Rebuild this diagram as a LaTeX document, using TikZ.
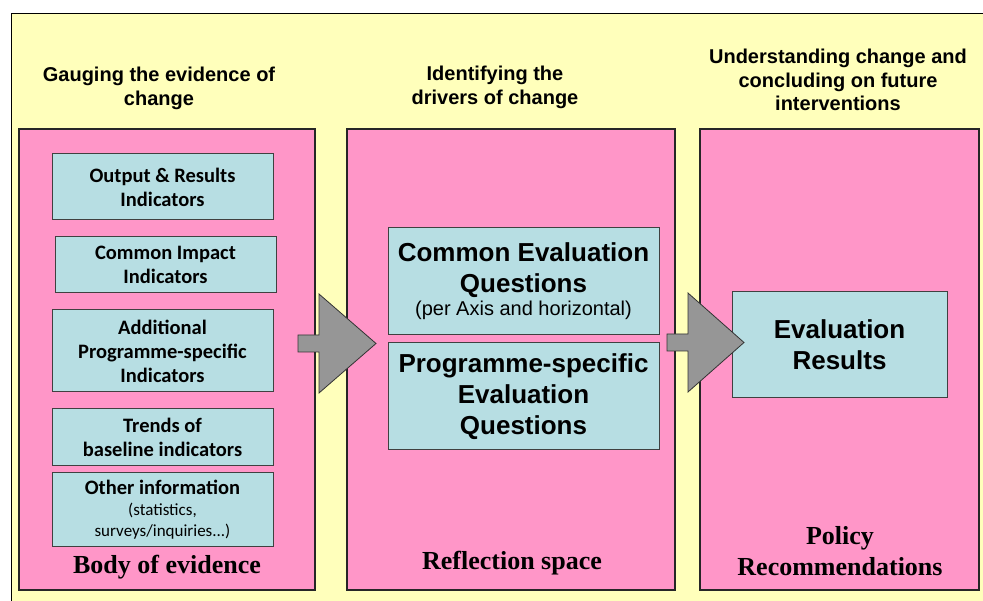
\documentclass[tikz,border=0pt]{standalone}
\usepackage{fontspec}
\setmainfont{Liberation Serif}
\newfontfamily\arialfont{Liberation Sans}
\newfontfamily\califont{Carlito}
\usepackage{xcolor}
\usepackage{tikz}
\usetikzlibrary{positioning}
\definecolor{bgyellow}{RGB}{255,255,187}
\definecolor{panelpink}{RGB}{255,150,200}
\definecolor{boxblue}{RGB}{183,222,227}
\definecolor{arrowgray}{RGB}{150,150,150}
\tikzset{panel node/.style={rectangle,fill=panelpink,draw=black!85,line width=1.2pt,anchor=north west,inner sep=0pt,outer sep=0pt},
         ind node/.style={rectangle,fill=boxblue,draw=black!75,line width=1pt,minimum width=221pt,align=center,inner sep=0pt,outer sep=0pt,
                          font=\califont\bfseries\fontsize{20.5}{24}\selectfont},
         q node/.style={rectangle,fill=boxblue,draw=black!75,line width=1pt,anchor=north west,align=center,inner sep=0pt,outer sep=0pt,
                        font=\arialfont\bfseries\fontsize{26}{31}\selectfont},
         head node/.style={anchor=north,align=center,inner sep=0pt,font=\arialfont\bfseries\fontsize{20}{23.5}\selectfont},
         foot node/.style={align=center,inner sep=0pt,font=\bfseries\fontsize{26}{31}\selectfont},
         block arrow/.style={fill=arrowgray,draw=black!80,line width=0.8pt,line join=miter},
            }

\begin{document}
\begin{tikzpicture}[x=1pt,y=-1pt]

    \useasboundingbox (0,0) rectangle (983,601);
    \clip (0,0) rectangle (983,601);
    \draw[fill=bgyellow,line width=1pt] (11,14) rectangle (1000,620);

    % column titles
    \node[head node] (h1) at (159,67) {Gauging the evidence of\\change};
    \node[head node] (h2) at (495,66) {Identifying the\\drivers of change};
    \node[head node] (h3) at (838,49) {Understanding change and\\concluding on future\\interventions};

    % panels
    \node[panel node,minimum width=296pt,minimum height=461pt] (p1) at (19,129) {};
    \node[panel node,minimum width=328pt,minimum height=461pt] (p2) at (347,129) {};
    \node[panel node,minimum width=279pt,minimum height=461pt] (p3) at (700,129) {};

    % body of evidence
    \node[ind node,minimum height=66pt,anchor=north] (b1) at (162.5,154) {Output \& Results\\Indicators};
    \node[ind node,minimum height=56pt] (b2) [below = 17pt of b1,xshift=3pt] {Common Impact\\Indicators};
    \node[ind node,minimum height=82pt] (b3) [below = 17pt of b2,xshift=-3pt] {Additional\\Programme-specific\\Indicators};
    \node[ind node,minimum height=57pt] (b4) [below = 17pt of b3] {Trends of\\baseline indicators};
    \node[ind node,minimum height=73pt] (b5) [below = 7pt of b4]
        {Other information\\[-3pt]\mdseries\fontsize{17}{20}\selectfont(statistics,\\[-3pt]\mdseries\fontsize{17}{20}\selectfont surveys/inquiries...)};

    % reflection space
    \node[q node,minimum width=271pt,minimum height=107pt] (q1) at (388,228)
        {Common Evaluation\\Questions\\[-8pt]{\mdseries\fontsize{20}{24}\selectfont(per Axis and horizontal)}};
    \node[q node,minimum width=271pt,minimum height=107pt] (q2) at (388,343) {Programme-specific\\Evaluation\\Questions};
    \node[q node,minimum width=215pt,minimum height=106pt] (r) at (732,292) {Evaluation\\Results};

    % panel captions
    \node[foot node,anchor=base] (f1) at (167,573) {Body of evidence};
    \node[foot node,anchor=base] (f2) at (512,569) {Reflection space};
    \node[foot node,anchor=south] (f3) at (840,576) {Policy\\Recommendations};

    % block arrows
    \draw[block arrow,shift={(298,343.5)}] (0,-8.5) -- (21,-8.5) -- (21,-49.5) -- (78,0) -- (21,49.5) -- (21,8.5) -- (0,8.5) -- cycle;
    \draw[block arrow,shift={(667,342.5)}] (0,-8.5) -- (21,-8.5) -- (21,-49.5) -- (77,0) -- (21,49.5) -- (21,8.5) -- (0,8.5) -- cycle;

\end{tikzpicture}
\end{document}
